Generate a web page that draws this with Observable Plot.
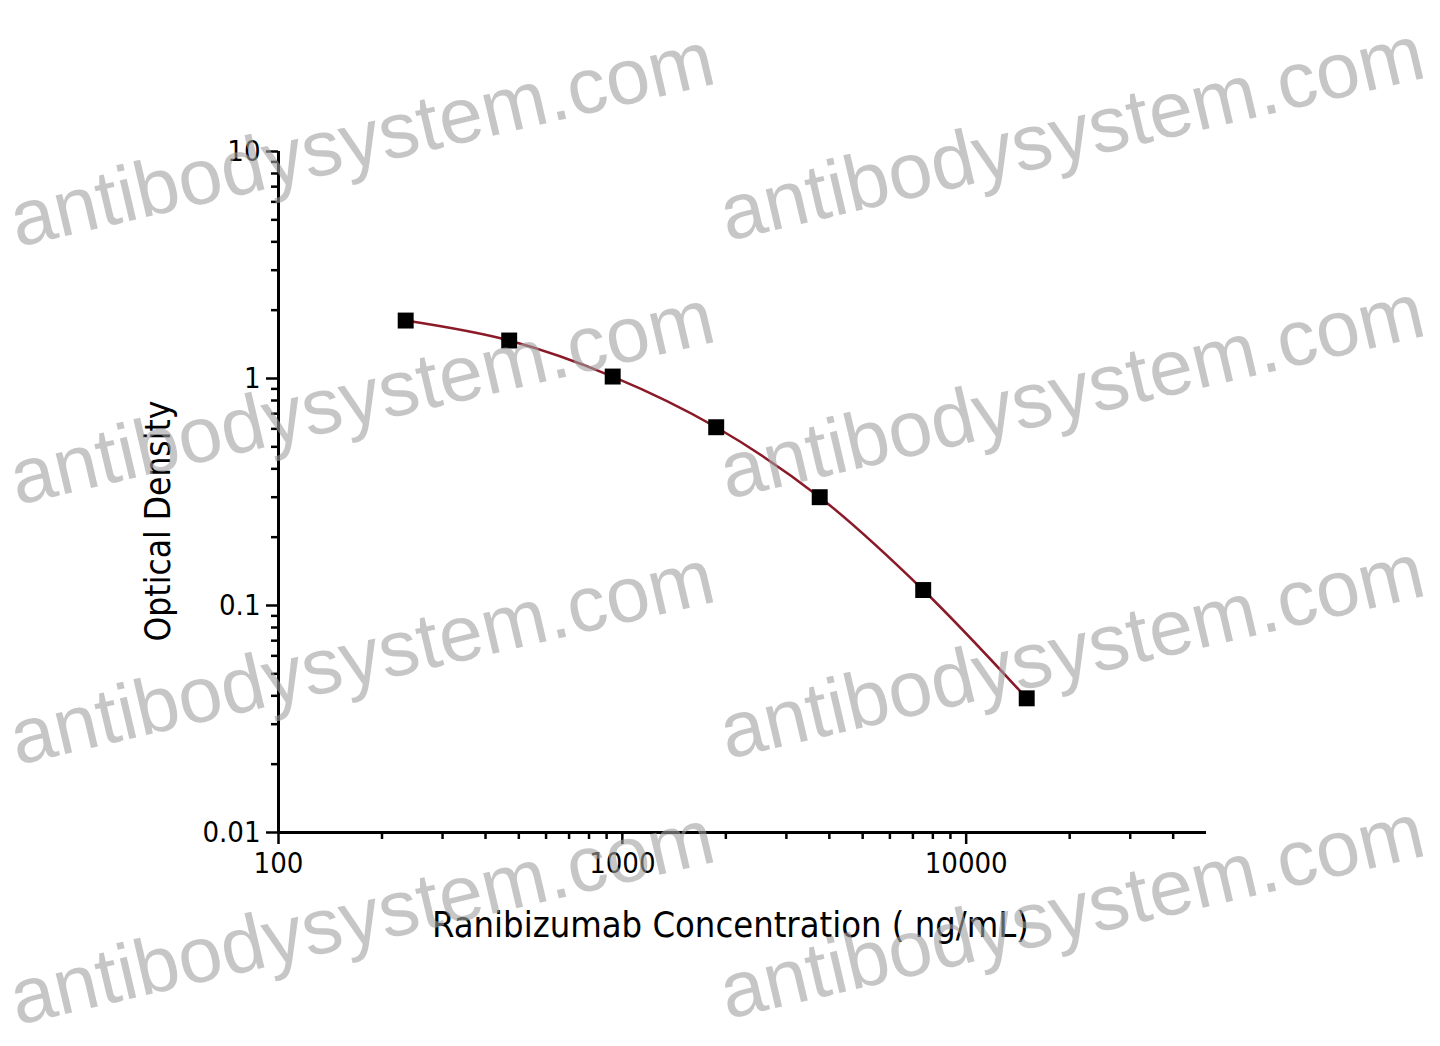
<!DOCTYPE html>
<html>
<head>
<meta charset="utf-8">
<script src="https://cdn.jsdelivr.net/npm/d3@7"></script>
<script src="https://cdn.jsdelivr.net/npm/@observablehq/plot@0.6"></script>
<style>
  html, body { margin: 0; padding: 0; background: #fff; }
  #wrap { position: relative; width: 1440px; height: 1046px; overflow: hidden; background: #fff; }
  #chart { position: absolute; left: 0; top: 0; z-index: 1; }
  .wm { position: absolute; z-index: 2; font-family: "Liberation Sans", Arial, sans-serif; font-size: 79px;
        color: rgba(160,160,160,0.6); white-space: nowrap; transform-origin: 0 100%; transform: rotate(-13.2deg);
        line-height: 1; pointer-events: none; }
</style>
</head>
<body>
<div id="wrap"><div id="chart"></div></div>
<script>
// Data
const concentration = [234.375, 468.75, 937.5, 1875, 3750, 7500, 15000];
const opticalDensity = [1.80, 1.47, 1.02, 0.61, 0.30, 0.117, 0.039];

const xMajorTicks = [100, 1000, 10000];
const xMinorTicks = [200, 300, 400, 500, 600, 700, 800, 900, 2000, 3000, 4000, 5000, 6000, 7000, 8000, 9000, 20000, 30000, 40000];
const yMajorTicks = [0.01, 0.1, 1, 10];
const yMinorTicks = [0.02,0.03,0.04,0.05,0.06,0.07,0.08,0.09,0.2,0.3,0.4,0.5,0.6,0.7,0.8,0.9,2,3,4,5,6,7,8,9];

const xLabel = "Ranibizumab Concentration ( ng/mL)";
const yLabel = "Optical Density";
const watermark = "antibodysystem.com";
const watermarkCols = [20, 730];
const watermarkRows = [0, 258, 518, 778];

const data = concentration.map((c, i) => ({c, od: opticalDensity[i]}));

const font = "'Liberation Sans Narrow', 'DejaVu Sans Condensed', 'Liberation Sans', Arial, sans-serif";

const chart = Plot.plot({
  width: 1440,
  height: 1046,
  marginLeft: 278,
  marginRight: 234,
  marginTop: 151,
  marginBottom: 214,
  style: {background: "transparent", fontFamily: font, color: "#000"},
  x: {type: "log", domain: [100, 50000], label: null},
  y: {type: "log", domain: [0.01, 10], label: null},
  marks: [
    Plot.axisX(xMajorTicks, {tickSize: 12, tickPadding: 8, fontSize: 29, tickFormat: d => String(d), strokeWidth: 2.5, label: null}),
    Plot.axisX(xMinorTicks, {tickSize: 7, text: null, strokeWidth: 2.5, label: null}),
    Plot.axisY(yMajorTicks, {tickSize: 12, tickPadding: 6, fontSize: 29, tickFormat: d => String(d), strokeWidth: 2.5, label: null}),
    Plot.axisY(yMinorTicks, {tickSize: 7, text: null, strokeWidth: 2.5, label: null}),
    Plot.ruleY([0.01], {x1: 100, x2: 50000, strokeWidth: 3}),
    Plot.ruleX([100], {y1: 0.01, y2: 10, strokeWidth: 3}),
    Plot.line(data, {x: "c", y: "od", stroke: "#8b1a28", strokeWidth: 2.5, curve: "catmull-rom"}),
    Plot.dot(data, {x: "c", y: "od", symbol: "square", r: 9, fill: "#000", stroke: "none"}),
    Plot.text([xLabel], {frameAnchor: "bottom", textAnchor: "middle", lineAnchor: "middle", dy: 93, dx: -12, fontSize: 36, fill: "#000"}),
    Plot.text([yLabel], {frameAnchor: "left", textAnchor: "middle", lineAnchor: "middle", dx: -120, dy: 29, rotate: -90, fontSize: 35, fill: "#000"})
  ]
});
document.getElementById("chart").appendChild(chart);

const wrap = document.getElementById("wrap");
for (const dyRow of watermarkRows) {
  for (const x of watermarkCols) {
    const d = document.createElement("div");
    d.className = "wm";
    d.textContent = watermark;
    d.style.left = x + "px";
    d.style.top = (180 + dyRow + (x > 100 ? -6 : 0)) + "px";
    wrap.appendChild(d);
  }
}
</script>
</body>
</html>
